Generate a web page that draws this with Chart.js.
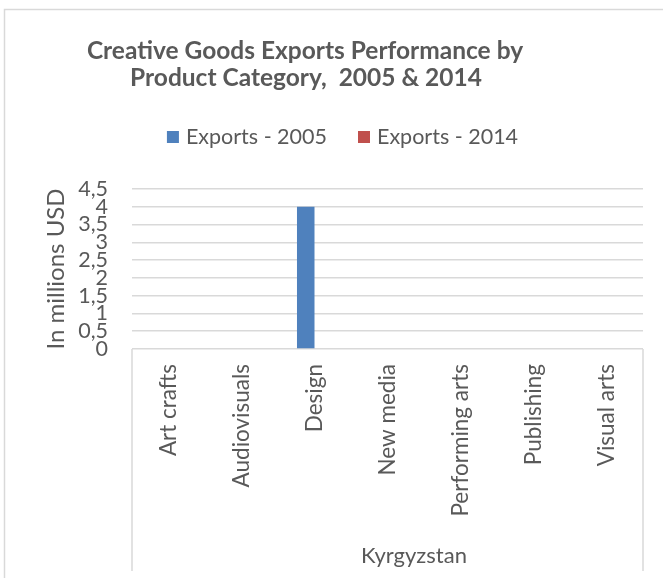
<!DOCTYPE html>
<html><head><meta charset="utf-8">
<script src="https://cdn.jsdelivr.net/npm/chart.js@4.4.0/dist/chart.umd.min.js"></script>
<style>html,body{margin:0;padding:0;background:#fff;overflow:hidden}#wrap{width:663px;height:578px;position:relative}</style>
</head><body><div id="wrap"><canvas id="c" width="663" height="578"></canvas></div>
<script>
const titleLines = ['Creative Goods Exports Performance by', 'Product Category,  2005 & 2014'];
const categories = ['Art crafts', 'Audiovisuals', 'Design', 'New media', 'Performing arts', 'Publishing', 'Visual arts'];
const groupLabel = 'Kyrgyzstan';
const seriesNames = ['Exports - 2005', 'Exports - 2014'];
const exports2005 = [0, 0, 4, 0, 0, 0, 0];
const exports2014 = [0, 0, 0, 0, 0, 0, 0];
const yMin = 0, yMax = 4.5, yStep = 0.5;
const yAxisTitle = 'In millions USD';

const TXT = '#595959';
const GRID = '#d9d9d9';
const FONT = 'Lato';

const decor = {
  id: 'decor',
  beforeDraw(chart) {
    const ctx = chart.ctx;
    ctx.save(); ctx.fillStyle = '#fff'; ctx.fillRect(0, 0, chart.width, chart.height); ctx.restore();
  },
  afterDraw(chart) {
    const {ctx, chartArea} = chart;
    ctx.save();
    ctx.strokeStyle = GRID; ctx.lineWidth = 1.5;
    ctx.beginPath();
    ctx.moveTo(4.5, chart.height); ctx.lineTo(4.5, 9.5); ctx.lineTo(chart.width, 9.5);
    ctx.stroke();
    ctx.beginPath();
    ctx.moveTo(chartArea.left, chartArea.bottom); ctx.lineTo(chartArea.left, 571);
    ctx.moveTo(chartArea.right, chartArea.bottom); ctx.lineTo(chartArea.right, 571);
    ctx.stroke();
    // title
    ctx.fillStyle = TXT; ctx.font = 'bold 24.5px ' + FONT; ctx.textAlign = 'center'; ctx.textBaseline = 'alphabetic';
    ctx.fillText(titleLines[0], 305, 59);
    ctx.fillText(titleLines[1], 306, 86);
    // group label under categories
    ctx.font = '22px ' + FONT;
    ctx.fillText(groupLabel, 414, 563);
    // legend
    ctx.font = '21.5px ' + FONT;
    const box = 12, gap = 7, space = 31;
    const ds = chart.data.datasets;
    const widths = ds.map(d => ctx.measureText(d.label).width);
    const total = widths.reduce((a, w) => a + box + gap + w, 0) + space * (widths.length - 1);
    let x = 342.5 - total / 2;
    ds.forEach((d, i) => {
      ctx.fillStyle = d.backgroundColor; ctx.fillRect(x, 131, box, box);
      ctx.fillStyle = TXT; ctx.textAlign = 'left'; ctx.textBaseline = 'middle';
      ctx.fillText(d.label, x + box + gap, 137.5);
      x += box + gap + widths[i] + space;
    });
    ctx.restore();
  }
};

new Chart(document.getElementById('c'), {
  type: 'bar',
  data: {
    labels: categories,
    datasets: [
      {label: seriesNames[0], data: exports2005, backgroundColor: '#4F81BD', categoryPercentage: 0.48, barPercentage: 1},
      {label: seriesNames[1], data: exports2014, backgroundColor: '#C0504D', categoryPercentage: 0.48, barPercentage: 1}
    ]
  },
  options: {
    responsive: false,
    animation: false,
    devicePixelRatio: 1,
    layout: {padding: {top: 189, left: 0, right: 20, bottom: 10}},
    plugins: {legend: {display: false}, title: {display: false}, tooltip: {enabled: false}},
    scales: {
      x: {
        grid: {display: false, drawTicks: false},
        border: {display: false},
        ticks: {autoSkip: false, minRotation: 90, maxRotation: 90, padding: 15, color: TXT, font: {family: FONT, size: 22.5}},
        afterFit(s) { s.height = 219; }
      },
      y: {
        min: yMin, max: yMax,
        grid: {color: GRID, lineWidth: 1.5, drawTicks: false},
        border: {display: false},
        ticks: {stepSize: yStep, autoSkip: false, padding: 24, color: TXT, font: {family: FONT, size: 21.5, lineHeight: 1},
          callback: v => String(v).replace('.', ',')},
        title: {display: true, text: yAxisTitle, color: TXT, font: {family: FONT, size: 24}, padding: {top: 42, bottom: 0}},
        afterFit(s) { s.width = 132; }
      }
    }
  },
  plugins: [decor]
});
</script>
</body></html>
